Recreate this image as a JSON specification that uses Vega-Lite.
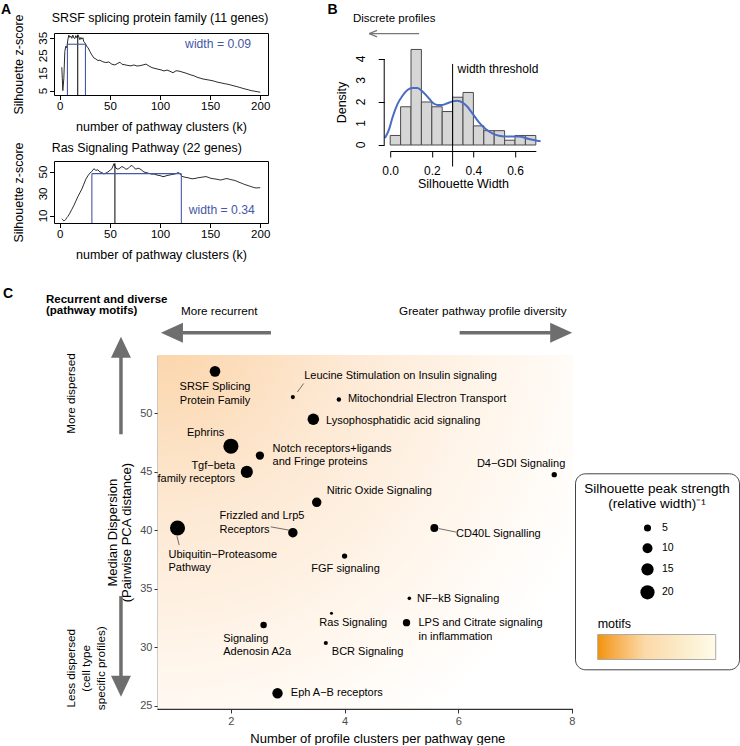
{
 "$schema": "https://vega.github.io/schema/vega-lite/v6.json",
 "padding": {"left": 0, "top": 2, "right": 0, "bottom": 0},
 "background": "white",
 "config": {
  "font": "Liberation Sans",
  "view": {"stroke": null},
  "axis": {"grid": false, "domainColor": "black", "tickColor": "black", "labelColor": "black", "titleColor": "black", "titleFontWeight": "normal", "labelOverlap": false, "labelFlush": false},
  "title": {"fontWeight": "normal", "color": "black"}
 },
 "resolve": {"scale": {"size": "independent", "color": "independent"}, "legend": {"size": "independent", "color": "independent"}},
 "datasets": {
  "srsf": [
   {"k":2,"z":18.5},{"k":3,"z":5.2},{"k":4,"z":12},{"k":5,"z":27.5},{"k":6,"z":30.5},{"k":7,"z":29.5},{"k":8,"z":34},{"k":9,"z":36.8},{"k":10,"z":35.5},{"k":11,"z":36.2},{"k":12,"z":35},{"k":13,"z":36.8},{"k":14,"z":35.2},{"k":15,"z":34.8},{"k":16,"z":36.5},{"k":17,"z":35.3},{"k":18,"z":37},{"k":19,"z":35.8},{"k":20,"z":34.2},{"k":21,"z":35.5},{"k":22,"z":34.5},{"k":23,"z":35.3},{"k":24,"z":33},{"k":25,"z":32.4},{"k":26,"z":31.5},{"k":27,"z":30.2},{"k":28,"z":29.8},{"k":30,"z":27.5},{"k":32,"z":25.5},{"k":34,"z":23.8},{"k":36,"z":23.2},{"k":38,"z":22.3},{"k":40,"z":22.5},{"k":43,"z":21.6},{"k":46,"z":21.2},{"k":49,"z":21.5},{"k":52,"z":20.2},{"k":55,"z":19.8},{"k":58,"z":20.8},{"k":60,"z":21.4},{"k":62,"z":20.2},{"k":65,"z":19.9},{"k":68,"z":19.5},{"k":71,"z":19.3},{"k":74,"z":19.8},{"k":77,"z":19.2},{"k":80,"z":19.4},{"k":83,"z":19.8},{"k":86,"z":20.3},{"k":89,"z":19.2},{"k":92,"z":18.3},{"k":95,"z":17.8},{"k":98,"z":17.4},{"k":101,"z":17},{"k":104,"z":16.4},{"k":107,"z":16.9},{"k":110,"z":16.2},{"k":113,"z":15.4},{"k":116,"z":16.5},{"k":119,"z":16.3},{"k":122,"z":15.8},{"k":125,"z":15.3},{"k":128,"z":14.7},{"k":131,"z":14.1},{"k":134,"z":13.6},{"k":137,"z":12.8},{"k":140,"z":12.3},{"k":143,"z":11.8},{"k":146,"z":11.5},{"k":149,"z":11.2},{"k":152,"z":10.9},{"k":155,"z":10.4},{"k":158,"z":9.9},{"k":161,"z":9.6},{"k":164,"z":9.2},{"k":167,"z":8.9},{"k":170,"z":8.5},{"k":173,"z":8},{"k":176,"z":7.6},{"k":179,"z":7.1},{"k":182,"z":6.6},{"k":185,"z":6.1},{"k":188,"z":5.7},{"k":191,"z":5.2},{"k":194,"z":4.9},{"k":197,"z":4.6},{"k":200,"z":4.3}
  ],
  "ras": [
   {"k":2,"z":7.5},{"k":3,"z":6.5},{"k":4,"z":5.5},{"k":5,"z":6},{"k":6,"z":7},{"k":7,"z":8.5},{"k":8,"z":9.5},{"k":10,"z":12.5},{"k":12,"z":16},{"k":14,"z":19.5},{"k":16,"z":23.5},{"k":18,"z":27.5},{"k":20,"z":31},{"k":22,"z":34.5},{"k":24,"z":39},{"k":26,"z":43.5},{"k":28,"z":46.5},{"k":30,"z":49},{"k":32,"z":50.5},{"k":34,"z":53},{"k":36,"z":51.5},{"k":38,"z":52},{"k":40,"z":50},{"k":42,"z":49.5},{"k":44,"z":48.2},{"k":46,"z":49},{"k":48,"z":50},{"k":50,"z":51.5},{"k":52,"z":53},{"k":54,"z":57.5},{"k":56,"z":53.5},{"k":58,"z":52.5},{"k":60,"z":53.5},{"k":62,"z":55},{"k":64,"z":54},{"k":66,"z":52.5},{"k":68,"z":53},{"k":70,"z":55},{"k":72,"z":56},{"k":74,"z":54},{"k":76,"z":52.5},{"k":78,"z":53.5},{"k":80,"z":52.8},{"k":82,"z":51.5},{"k":84,"z":50},{"k":86,"z":49.5},{"k":88,"z":49},{"k":90,"z":48.5},{"k":92,"z":48},{"k":94,"z":48.2},{"k":96,"z":47.5},{"k":98,"z":47},{"k":100,"z":46.8},{"k":102,"z":46},{"k":104,"z":45.8},{"k":106,"z":46.5},{"k":108,"z":47},{"k":110,"z":47.3},{"k":112,"z":47.8},{"k":114,"z":48},{"k":116,"z":48.5},{"k":118,"z":49.5},{"k":120,"z":48.5},{"k":122,"z":46},{"k":124,"z":45.5},{"k":126,"z":45},{"k":128,"z":44.8},{"k":130,"z":44.2},{"k":132,"z":43.8},{"k":134,"z":44},{"k":136,"z":44.3},{"k":138,"z":44.8},{"k":140,"z":45},{"k":142,"z":45.3},{"k":144,"z":45.6},{"k":146,"z":45.8},{"k":148,"z":45.2},{"k":150,"z":44.5},{"k":152,"z":44},{"k":154,"z":43.8},{"k":156,"z":43.5},{"k":158,"z":43.2},{"k":160,"z":42.7},{"k":162,"z":43},{"k":164,"z":43.5},{"k":166,"z":44},{"k":168,"z":43.8},{"k":170,"z":43.2},{"k":172,"z":42.8},{"k":174,"z":42.5},{"k":176,"z":41.8},{"k":178,"z":41},{"k":180,"z":40.3},{"k":182,"z":39.6},{"k":184,"z":38.8},{"k":186,"z":38.2},{"k":188,"z":37.6},{"k":190,"z":37},{"k":192,"z":36.4},{"k":194,"z":35.8},{"k":196,"z":35.5},{"k":198,"z":35.6},{"k":200,"z":35.8}
  ],
  "hist": [
   {"x0":0,"x1":0.05,"d":0.444},{"x0":0.05,"x1":0.1,"d":1.778},{"x0":0.1,"x1":0.15,"d":4.444},{"x0":0.15,"x1":0.2,"d":2.0},{"x0":0.2,"x1":0.25,"d":1.778},{"x0":0.25,"x1":0.3,"d":1.556},{"x0":0.3,"x1":0.35,"d":2.222},{"x0":0.35,"x1":0.4,"d":2.444},{"x0":0.4,"x1":0.45,"d":0.889},{"x0":0.45,"x1":0.5,"d":0.667},{"x0":0.5,"x1":0.55,"d":0.667},{"x0":0.55,"x1":0.6,"d":0.222},{"x0":0.6,"x1":0.65,"d":0.444},{"x0":0.65,"x1":0.7,"d":0.444}
  ],
  "dens": [
   {"w":-0.025,"d":0.33},{"w":-0.005,"d":0.74},{"w":0.011,"d":1.28},{"w":0.035,"d":1.9},{"w":0.059,"d":2.29},{"w":0.083,"d":2.56},{"w":0.107,"d":2.65},{"w":0.131,"d":2.65},{"w":0.155,"d":2.49},{"w":0.179,"d":2.25},{"w":0.203,"d":1.98},{"w":0.227,"d":1.86},{"w":0.251,"d":1.86},{"w":0.275,"d":1.94},{"w":0.299,"d":2.03},{"w":0.323,"d":2.06},{"w":0.347,"d":1.98},{"w":0.371,"d":1.78},{"w":0.395,"d":1.47},{"w":0.427,"d":1.05},{"w":0.459,"d":0.74},{"w":0.491,"d":0.54},{"w":0.523,"d":0.43},{"w":0.571,"d":0.39},{"w":0.619,"d":0.39},{"w":0.667,"d":0.28},{"w":0.723,"d":0.17}
  ],
  "pts": [
   {"id":"SRSF","name":"SRSF Splicing Protein Family","x":1.72,"y":53.6,"s":11.3},
   {"id":"Leucine","name":"Leucine Stimulation on Insulin signaling","x":3.09,"y":51.4,"s":1.7},
   {"id":"Mito","name":"Mitochondrial Electron Transport","x":3.90,"y":51.2,"s":2.0},
   {"id":"Lyso","name":"Lysophosphatidic acid signaling","x":3.45,"y":49.5,"s":13.2},
   {"id":"Ephrins","name":"Ephrins","x":2.0,"y":47.2,"s":22.6},
   {"id":"Notch","name":"Notch receptors+ligands and Fringe proteins","x":2.51,"y":46.4,"s":6.8},
   {"id":"Tgf","name":"Tgf−beta family receptors","x":2.28,"y":45.0,"s":14.6},
   {"id":"Nitric","name":"Nitric Oxide Signaling","x":3.51,"y":42.4,"s":8.9},
   {"id":"Frizzled","name":"Frizzled and Lrp5 Receptors","x":3.09,"y":39.8,"s":8.9},
   {"id":"Ubiquitin","name":"Ubiquitin−Proteasome Pathway","x":1.06,"y":40.2,"s":22.6},
   {"id":"FGF","name":"FGF signaling","x":4.0,"y":37.8,"s":2.8},
   {"id":"D4","name":"D4−GDI Signaling","x":7.69,"y":44.76,"s":2.8},
   {"id":"CD40L","name":"CD40L Signalling","x":5.58,"y":40.2,"s":6.3},
   {"id":"NFkB","name":"NF−kB Signaling","x":5.14,"y":34.18,"s":1.25},
   {"id":"Ras","name":"Ras Signaling","x":3.77,"y":32.9,"s":0.9},
   {"id":"LPS","name":"LPS and Citrate signaling in inflammation","x":5.09,"y":32.1,"s":5.4},
   {"id":"A2a","name":"Signaling Adenosin A2a","x":2.575,"y":31.9,"s":4.2},
   {"id":"BCR","name":"BCR Signaling","x":3.67,"y":30.36,"s":1.7},
   {"id":"EphAB","name":"Eph A−B receptors","x":2.82,"y":26.06,"s":10.7}
  ]
 },
 "vconcat": [
  {
   "hconcat": [
    {
     "vconcat": [
      {
       "width": 214, "height": 62,
       "view": {"stroke": "black", "strokeWidth": 1},
       "layer": [
        {"data": {"name": "srsf"}, "mark": {"type": "line", "color": "#2b2b2b", "strokeWidth": 1},
         "encoding": {
          "x": {"field": "k", "type": "quantitative", "scale": {"domain": [-5.8, 207.8], "nice": false, "zero": false},
                "axis": {"title": "number of pathway clusters (k)", "values": [0,50,100,150,200], "domain": false, "tickSize": 4.5, "labelFontSize": 11.5, "titleFontSize": 12.5, "labelPadding": 1, "titlePadding": 8, "labelOverlap": false}},
          "y": {"field": "z", "type": "quantitative", "scale": {"domain": [2.7, 38], "nice": false, "zero": false},
                "axis": {"title": "Silhouette z-score", "values": [5,10,15,20,25,30,35], "labels": false, "domain": false, "tickSize": 4.5, "titleFontSize": 12.5, "titlePadding": 24}}
         }},
        {"data": {"values": [{"v":5},{"v":15},{"v":25},{"v":35}]}, "mark": {"type": "text", "angle": 270, "align": "center", "baseline": "middle", "fontSize": 11.5}, "encoding": {"x": {"datum": -16.07}, "y": {"field": "v", "type": "quantitative"}, "text": {"field": "v", "type": "quantitative"}}},
        {"data": {"values": [{}]}, "mark": {"type": "rule", "color": "black", "strokeWidth": 1}, "encoding": {"x": {"datum": 17.9}, "y": {"datum": 2.7}, "y2": {"datum": 36.6}}},
        {"data": {"values": [{}]}, "mark": {"type": "rule", "color": "#4657a8", "strokeWidth": 1.1}, "encoding": {"x": {"datum": 7.6}, "y": {"datum": 2.7}, "y2": {"datum": 31.6}}},
        {"data": {"values": [{}]}, "mark": {"type": "rule", "color": "#4657a8", "strokeWidth": 1.1}, "encoding": {"x": {"datum": 25.6}, "y": {"datum": 2.7}, "y2": {"datum": 31.6}}},
        {"data": {"values": [{}]}, "mark": {"type": "rule", "color": "#4657a8", "strokeWidth": 1.1}, "encoding": {"x": {"datum": 7.6}, "x2": {"datum": 25.6}, "y": {"datum": 31.6}}},
        {"data": {"values": [{}]}, "mark": {"type": "text", "text": "width = 0.09", "color": "#4657a8", "fontSize": 12.2, "align": "center", "baseline": "middle"}, "encoding": {"x": {"datum": 158}, "y": {"datum": 31.9}}},
        {"data": {"values": [{}]}, "mark": {"type": "text", "text": "SRSF splicing protein family (11 genes)", "fontSize": 12.4, "align": "left", "baseline": "middle"}, "encoding": {"x": {"datum": -8.1}, "y": {"datum": 46.38}}},
        {"data": {"values": [{}]}, "mark": {"type": "text", "text": "A", "fontSize": 14, "fontWeight": "bold", "align": "left", "baseline": "top"}, "encoding": {"x": {"datum": -58.69}, "y": {"datum": 54.94}}}
       ]
      },
      {
       "width": 214, "height": 62,
       "view": {"stroke": "black", "strokeWidth": 1},
       "layer": [
        {"data": {"name": "ras"}, "mark": {"type": "line", "color": "#2b2b2b", "strokeWidth": 1},
         "encoding": {
          "x": {"field": "k", "type": "quantitative", "scale": {"domain": [-5.8, 207.8], "nice": false, "zero": false},
                "axis": {"title": "number of pathway clusters (k)", "values": [0,50,100,150,200], "domain": false, "tickSize": 4.5, "labelFontSize": 11.5, "titleFontSize": 12.5, "labelPadding": 1, "titlePadding": 8, "labelOverlap": false}},
          "y": {"field": "z", "type": "quantitative", "scale": {"domain": [3.6, 60], "nice": false, "zero": false},
                "axis": {"title": "Silhouette z-score", "values": [10,20,30,40,50], "labels": false, "domain": false, "tickSize": 4.5, "titleFontSize": 12.5, "titlePadding": 24}}
         }},
        {"data": {"values": [{"v":10},{"v":30},{"v":50}]}, "mark": {"type": "text", "angle": 270, "align": "center", "baseline": "middle", "fontSize": 11.5}, "encoding": {"x": {"datum": -16.07}, "y": {"field": "v", "type": "quantitative"}, "text": {"field": "v", "type": "quantitative"}}},
        {"data": {"values": [{}]}, "mark": {"type": "rule", "color": "black", "strokeWidth": 1}, "encoding": {"x": {"datum": 55}, "y": {"datum": 3.6}, "y2": {"datum": 57.9}}},
        {"data": {"values": [{}]}, "mark": {"type": "rule", "color": "#4657a8", "strokeWidth": 1.1}, "encoding": {"x": {"datum": 32}, "y": {"datum": 3.6}, "y2": {"datum": 48.5}}},
        {"data": {"values": [{}]}, "mark": {"type": "rule", "color": "#4657a8", "strokeWidth": 1.1}, "encoding": {"x": {"datum": 121.3}, "y": {"datum": 3.6}, "y2": {"datum": 48.5}}},
        {"data": {"values": [{}]}, "mark": {"type": "rule", "color": "#4657a8", "strokeWidth": 1.1}, "encoding": {"x": {"datum": 32}, "x2": {"datum": 121.3}, "y": {"datum": 48.5}}},
        {"data": {"values": [{}]}, "mark": {"type": "text", "text": "width = 0.34", "color": "#4657a8", "fontSize": 12.2, "align": "center", "baseline": "middle"}, "encoding": {"x": {"datum": 161.7}, "y": {"datum": 15.4}}},
        {"data": {"values": [{}]}, "mark": {"type": "text", "text": "Ras Signaling Pathway (22 genes)", "fontSize": 12.4, "align": "left", "baseline": "middle"}, "encoding": {"x": {"datum": -8.1}, "y": {"datum": 72.05}}}
       ]
      }
     ],
     "spacing": 66,
     "bounds": "flush"
    },
    {
     "width": 145.6, "height": 112,
     "layer": [
      {"data": {"name": "hist"}, "mark": {"type": "rect", "fill": "#d6d6d6", "stroke": "#4a4a4a", "strokeWidth": 1},
       "encoding": {
        "x": {"field": "x0", "type": "quantitative", "scale": {"domain": [0, 0.7], "nice": false, "zero": false},
              "axis": {"title": "Silhouette Width", "values": [0,0.1,0.2,0.3,0.4,0.5,0.6,0.7], "labelExpr": "round(datum.value*10) % 2 == 0 ? format(datum.value, '.1f') : ''", "offset": 6, "tickSize": 6, "labelFontSize": 12, "titleFontSize": 12.5, "labelPadding": 8, "titlePadding": 1, "labelOverlap": false}},
        "x2": {"field": "x1"},
        "y": {"field": "d", "type": "quantitative", "scale": {"domain": [0, 5.2093], "nice": false, "zero": false},
              "axis": {"title": "Density", "values": [0,1,2,3,4], "labels": false, "offset": 6, "tickSize": 6, "domain": false, "titleFontSize": 12.5, "titlePadding": 29, "titleY": 69}},
        "y2": {"datum": 0}
       }},
      {"data": {"values": [{"v":0},{"v":1},{"v":2},{"v":3},{"v":4}]}, "mark": {"type": "text", "angle": 270, "align": "center", "baseline": "middle", "fontSize": 12}, "encoding": {"x": {"datum": -0.1413}, "y": {"field": "v", "type": "quantitative"}, "text": {"field": "v", "type": "quantitative"}}},
      {"data": {"name": "dens"}, "mark": {"type": "line", "color": "#4a6cc2", "strokeWidth": 2, "interpolate": "monotone"},
       "encoding": {"x": {"field": "w", "type": "quantitative"}, "y": {"field": "d", "type": "quantitative"}}},
      {"data": {"values": [{}]}, "mark": {"type": "rule", "color": "black", "strokeWidth": 1}, "encoding": {"x": {"datum": -0.0288}, "y": {"datum": 0}, "y2": {"datum": 4}}},
      {"data": {"values": [{}]}, "mark": {"type": "rule", "color": "black", "strokeWidth": 1}, "encoding": {"x": {"datum": 0.3}, "y": {"datum": -1.0}, "y2": {"datum": 3.77}}},
      {"data": {"values": [{}]}, "mark": {"type": "text", "text": "width threshold", "fontSize": 12, "align": "left", "baseline": "middle"}, "encoding": {"x": {"datum": 0.324}, "y": {"datum": 3.53}}},
      {"data": {"values": [{}]}, "mark": {"type": "text", "text": "Discrete profiles", "fontSize": 11.5, "align": "center", "baseline": "middle"}, "encoding": {"x": {"datum": 0.019}, "y": {"datum": 5.85}}},
      {"data": {"values": [{}]}, "mark": {"type": "rule", "color": "#777777", "strokeWidth": 1.2}, "encoding": {"x": {"datum": 0.139}, "x2": {"datum": -0.101}, "y": {"datum": 5.18}}},
      {"data": {"values": [{}]}, "mark": {"type": "rule", "color": "#777777", "strokeWidth": 1.2}, "encoding": {"x": {"datum": -0.101}, "x2": {"datum": -0.063}, "y": {"datum": 5.18}, "y2": {"datum": 5.33}}},
      {"data": {"values": [{}]}, "mark": {"type": "rule", "color": "#777777", "strokeWidth": 1.2}, "encoding": {"x": {"datum": -0.101}, "x2": {"datum": -0.063}, "y": {"datum": 5.18}, "y2": {"datum": 5.03}}},
      {"data": {"values": [{}]}, "mark": {"type": "text", "text": "B", "fontSize": 14, "fontWeight": "bold", "align": "left", "baseline": "top"}, "encoding": {"x": {"datum": -0.3014}, "y": {"datum": 6.593}}}
     ]
    }
   ],
   "spacing": 56.2
  },
  {
   "width": 519, "height": 354.3,
   "layer": [
    {"data": {"values": [{}]}, "mark": {"type": "rect", "fill": {"gradient": "radial", "x1": 0, "y1": 0, "r1": 0, "x2": 0, "y2": 0, "r2": 1.15, "stops": [{"offset": 0, "color": "#fbd3a6"}, {"offset": 0.4, "color": "#fde9d4"}, {"offset": 0.75, "color": "#fff7ee"}, {"offset": 1, "color": "#ffffff"}]}},
     "encoding": {"x": {"datum": 0.71}, "x2": {"datum": 8.02}, "y": {"datum": 24.69}, "y2": {"datum": 55}}},
    {"data": {"values": [{}]}, "mark": {"type": "rule", "color": "black", "strokeWidth": 1}, "encoding": {"x": {"datum": 0.71}, "x2": {"datum": 8.02}, "y": {"datum": 24.69}}},
    {"data": {"values": [{}]}, "mark": {"type": "rule", "color": "#333333", "strokeWidth": 0.7}, "encoding": {"x": {"datum": 3.17}, "y": {"datum": 51.84}, "x2": {"datum": 3.28}, "y2": {"datum": 52.56}}},
    {"data": {"values": [{}]}, "mark": {"type": "rule", "color": "#333333", "strokeWidth": 0.7}, "encoding": {"x": {"datum": 2.70}, "y": {"datum": 40.30}, "x2": {"datum": 3.02}, "y2": {"datum": 40.02}}},
    {"data": {"values": [{}]}, "mark": {"type": "rule", "color": "#333333", "strokeWidth": 0.7}, "encoding": {"x": {"datum": 1.05}, "y": {"datum": 39.50}, "x2": {"datum": 1.09}, "y2": {"datum": 38.74}}},
    {"data": {"values": [{}]}, "mark": {"type": "rule", "color": "#333333", "strokeWidth": 0.7}, "encoding": {"x": {"datum": 5.66}, "y": {"datum": 40.15}, "x2": {"datum": 5.96}, "y2": {"datum": 39.85}}},
    {"data": {"name": "pts"}, "mark": {"type": "circle", "color": "black", "opacity": 1},
     "encoding": {
      "x": {"field": "x", "type": "quantitative", "scale": {"domain": [-1.1135, 8.02], "nice": false, "zero": false},
            "axis": {"title": "Number of profile clusters per pathway gene", "values": [2,4,6,8], "format": "d", "domain": false, "tickSize": 3.7, "tickColor": "#333333", "labelColor": "#4d4d4d", "labelFontSize": 11, "titleFontSize": 13, "labelPadding": 2, "titlePadding": 6, "titleX": 323.3, "labelOverlap": false}},
      "y": {"field": "y", "type": "quantitative", "scale": {"domain": [24.69, 55], "nice": false, "zero": false},
            "axis": {"title": ["Median Dispersion", "(Pairwise PCA distance)"], "offset": -103.7, "values": [25,30,35,40,45,50], "format": "d", "tickSize": 3.7, "tickColor": "#333333", "labelColor": "#4d4d4d", "labelFontSize": 11, "titleFontSize": 13, "titleLineHeight": 14.3, "labelPadding": 2, "titlePadding": 6, "domainWidth": 1, "labelOverlap": false}},
      "size": {"field": "s", "type": "quantitative", "scale": {"domain": [0, 20], "range": [0, 201]},
               "legend": {"title": ["Silhouette peak strength", "(relative width)⁻¹"], "orient": "none", "legendX": 521, "legendY": 118.3,
                          "values": [5, 10, 15, 20, 0.001, 0.002, 0.003], "labelExpr": "datum.value >= 1 ? datum.label : ' '",
                          "strokeColor": "#444444", "cornerRadius": 10, "padding": 9, "fillColor": "white",
                          "titleFontSize": 13.5, "titleFontWeight": "normal", "titleAnchor": "middle", "titleAlign": "center", "titleLineHeight": 15, "titlePadding": 12,
                          "symbolFillColor": "black", "symbolStrokeWidth": 0, "symbolOpacity": 1, "symbolType": "circle", "symbolOffset": 0,
                          "labelFontSize": 10.5, "labelOffset": 7, "rowPadding": 9}}
     }},
    {"data": {"name": "pts"}, "transform": [{"filter": "datum.id == 'SRSF'"}], "mark": {"type": "text", "text": ["SRSF Splicing", "Protein Family"], "fontSize": 11, "lineHeight": 13.3, "align": "center", "baseline": "middle", "dy": 16}, "encoding": {"x": {"field": "x", "type": "quantitative"}, "y": {"field": "y", "type": "quantitative"}}},
    {"data": {"name": "pts"}, "transform": [{"filter": "datum.id == 'Leucine'"}], "mark": {"type": "text", "fontSize": 11, "align": "left", "baseline": "middle", "dx": 11.3, "dy": -20.7}, "encoding": {"x": {"field": "x", "type": "quantitative"}, "y": {"field": "y", "type": "quantitative"}, "text": {"field": "name"}}},
    {"data": {"name": "pts"}, "transform": [{"filter": "datum.id == 'Mito'"}], "mark": {"type": "text", "fontSize": 11, "align": "left", "baseline": "middle", "dx": 9, "dy": 0}, "encoding": {"x": {"field": "x", "type": "quantitative"}, "y": {"field": "y", "type": "quantitative"}, "text": {"field": "name"}}},
    {"data": {"name": "pts"}, "transform": [{"filter": "datum.id == 'Lyso'"}], "mark": {"type": "text", "fontSize": 11, "align": "left", "baseline": "middle", "dx": 12.7, "dy": 2}, "encoding": {"x": {"field": "x", "type": "quantitative"}, "y": {"field": "y", "type": "quantitative"}, "text": {"field": "name"}}},
    {"data": {"name": "pts"}, "transform": [{"filter": "datum.id == 'Ephrins'"}], "mark": {"type": "text", "fontSize": 11, "align": "center", "baseline": "middle", "dx": -25.3, "dy": -13.4}, "encoding": {"x": {"field": "x", "type": "quantitative"}, "y": {"field": "y", "type": "quantitative"}, "text": {"field": "name"}}},
    {"data": {"name": "pts"}, "transform": [{"filter": "datum.id == 'Notch'"}], "mark": {"type": "text", "text": ["Notch receptors+ligands", "and Fringe proteins"], "fontSize": 11, "lineHeight": 13.3, "align": "left", "baseline": "middle", "dx": 12.7, "dy": -6.7}, "encoding": {"x": {"field": "x", "type": "quantitative"}, "y": {"field": "y", "type": "quantitative"}}},
    {"data": {"name": "pts"}, "transform": [{"filter": "datum.id == 'Tgf'"}], "mark": {"type": "text", "text": ["Tgf−beta", "family receptors"], "fontSize": 11, "lineHeight": 13.3, "align": "right", "baseline": "middle", "dx": -11.7, "dy": -6.3}, "encoding": {"x": {"field": "x", "type": "quantitative"}, "y": {"field": "y", "type": "quantitative"}}},
    {"data": {"name": "pts"}, "transform": [{"filter": "datum.id == 'Nitric'"}], "mark": {"type": "text", "fontSize": 11, "align": "left", "baseline": "middle", "dx": 10, "dy": -11.6}, "encoding": {"x": {"field": "x", "type": "quantitative"}, "y": {"field": "y", "type": "quantitative"}, "text": {"field": "name"}}},
    {"data": {"name": "pts"}, "transform": [{"filter": "datum.id == 'Frizzled'"}], "mark": {"type": "text", "text": ["Frizzled and Lrp5", "Receptors"], "fontSize": 11, "lineHeight": 13.3, "align": "left", "baseline": "middle", "dx": -73.4, "dy": -16.3}, "encoding": {"x": {"field": "x", "type": "quantitative"}, "y": {"field": "y", "type": "quantitative"}}},
    {"data": {"name": "pts"}, "transform": [{"filter": "datum.id == 'Ubiquitin'"}], "mark": {"type": "text", "text": ["Ubiquitin−Proteasome", "Pathway"], "fontSize": 11, "lineHeight": 13.3, "align": "left", "baseline": "middle", "dx": -9, "dy": 26.6}, "encoding": {"x": {"field": "x", "type": "quantitative"}, "y": {"field": "y", "type": "quantitative"}}},
    {"data": {"name": "pts"}, "transform": [{"filter": "datum.id == 'FGF'"}], "mark": {"type": "text", "fontSize": 11, "align": "center", "baseline": "middle", "dx": 1, "dy": 13}, "encoding": {"x": {"field": "x", "type": "quantitative"}, "y": {"field": "y", "type": "quantitative"}, "text": {"field": "name"}}},
    {"data": {"name": "pts"}, "transform": [{"filter": "datum.id == 'D4'"}], "mark": {"type": "text", "fontSize": 11, "align": "right", "baseline": "middle", "dx": 11, "dy": -11}, "encoding": {"x": {"field": "x", "type": "quantitative"}, "y": {"field": "y", "type": "quantitative"}, "text": {"field": "name"}}},
    {"data": {"name": "pts"}, "transform": [{"filter": "datum.id == 'CD40L'"}], "mark": {"type": "text", "fontSize": 11, "align": "left", "baseline": "middle", "dx": 21.7, "dy": 5.6}, "encoding": {"x": {"field": "x", "type": "quantitative"}, "y": {"field": "y", "type": "quantitative"}, "text": {"field": "name"}}},
    {"data": {"name": "pts"}, "transform": [{"filter": "datum.id == 'NFkB'"}], "mark": {"type": "text", "fontSize": 11, "align": "left", "baseline": "middle", "dx": 7.7, "dy": 0.7}, "encoding": {"x": {"field": "x", "type": "quantitative"}, "y": {"field": "y", "type": "quantitative"}, "text": {"field": "name"}}},
    {"data": {"name": "pts"}, "transform": [{"filter": "datum.id == 'Ras'"}], "mark": {"type": "text", "fontSize": 11, "align": "center", "baseline": "middle", "dx": 21.8, "dy": 10}, "encoding": {"x": {"field": "x", "type": "quantitative"}, "y": {"field": "y", "type": "quantitative"}, "text": {"field": "name"}}},
    {"data": {"name": "pts"}, "transform": [{"filter": "datum.id == 'LPS'"}], "mark": {"type": "text", "text": ["LPS and Citrate signaling", "in inflammation"], "fontSize": 11, "lineHeight": 13.3, "align": "left", "baseline": "middle", "dx": 12, "dy": 0.6}, "encoding": {"x": {"field": "x", "type": "quantitative"}, "y": {"field": "y", "type": "quantitative"}}},
    {"data": {"name": "pts"}, "transform": [{"filter": "datum.id == 'A2a'"}], "mark": {"type": "text", "text": ["Signaling", "Adenosin A2a"], "fontSize": 11, "lineHeight": 13.3, "align": "left", "baseline": "middle", "dx": -40.4, "dy": 14}, "encoding": {"x": {"field": "x", "type": "quantitative"}, "y": {"field": "y", "type": "quantitative"}}},
    {"data": {"name": "pts"}, "transform": [{"filter": "datum.id == 'BCR'"}], "mark": {"type": "text", "fontSize": 11, "align": "left", "baseline": "middle", "dx": 6, "dy": 9.3}, "encoding": {"x": {"field": "x", "type": "quantitative"}, "y": {"field": "y", "type": "quantitative"}, "text": {"field": "name"}}},
    {"data": {"name": "pts"}, "transform": [{"filter": "datum.id == 'EphAB'"}], "mark": {"type": "text", "fontSize": 11, "align": "left", "baseline": "middle", "dx": 13.3, "dy": 0}, "encoding": {"x": {"field": "x", "type": "quantitative"}, "y": {"field": "y", "type": "quantitative"}, "text": {"field": "name"}}},
    {"data": {"values": [{}]}, "mark": {"type": "rule", "color": "#6e6e6e", "strokeWidth": 3.5}, "encoding": {"x": {"datum": 2.704}, "x2": {"datum": 1.15}, "y": {"datum": 56.91}}},
    {"data": {"values": [{}]}, "mark": {"type": "point", "shape": "M-1,0L1,-0.91L1,0.91Z", "filled": true, "color": "#6e6e6e", "opacity": 1, "size": 484, "strokeWidth": 0}, "encoding": {"x": {"datum": 0.962}, "y": {"datum": 56.91}}},
    {"data": {"values": [{}]}, "mark": {"type": "rule", "color": "#6e6e6e", "strokeWidth": 3.5}, "encoding": {"x": {"datum": 6.025}, "x2": {"datum": 7.63}, "y": {"datum": 56.91}}},
    {"data": {"values": [{}]}, "mark": {"type": "point", "shape": "M1,0L-1,-0.91L-1,0.91Z", "filled": true, "color": "#6e6e6e", "opacity": 1, "size": 484, "strokeWidth": 0}, "encoding": {"x": {"datum": 7.812}, "y": {"datum": 56.91}}},
    {"data": {"values": [{}]}, "mark": {"type": "rule", "color": "#6e6e6e", "strokeWidth": 3.5}, "encoding": {"x": {"datum": 0.065}, "y": {"datum": 48.22}, "y2": {"datum": 54.9}}},
    {"data": {"values": [{}]}, "mark": {"type": "point", "shape": "M0,-1L-0.95,1L0.95,1Z", "filled": true, "color": "#6e6e6e", "opacity": 1, "size": 441, "strokeWidth": 0}, "encoding": {"x": {"datum": 0.065}, "y": {"datum": 55.66}}},
    {"data": {"values": [{}]}, "mark": {"type": "rule", "color": "#6e6e6e", "strokeWidth": 3.5}, "encoding": {"x": {"datum": 0.065}, "y": {"datum": 34.38}, "y2": {"datum": 27.4}}},
    {"data": {"values": [{}]}, "mark": {"type": "point", "shape": "M0,1L-0.95,-1L0.95,-1Z", "filled": true, "color": "#6e6e6e", "opacity": 1, "size": 441, "strokeWidth": 0}, "encoding": {"x": {"datum": 0.065}, "y": {"datum": 26.66}}},
    {"data": {"values": [{}]}, "mark": {"type": "text", "text": "C", "fontSize": 14, "fontWeight": "bold", "align": "left", "baseline": "top"}, "encoding": {"x": {"datum": -2.011}, "y": {"datum": 60.79}}},
    {"data": {"values": [{}]}, "mark": {"type": "text", "text": ["Recurrent and diverse", "(pathway motifs)"], "fontSize": 11.5, "fontWeight": "bold", "lineHeight": 11, "align": "left", "baseline": "middle"}, "encoding": {"x": {"datum": -1.254}, "y": {"datum": 59.68}}},
    {"data": {"values": [{}]}, "mark": {"type": "text", "text": "More recurrent", "fontSize": 11.7, "align": "left", "baseline": "middle"}, "encoding": {"x": {"datum": 1.12}, "y": {"datum": 58.76}}},
    {"data": {"values": [{}]}, "mark": {"type": "text", "text": "Greater pathway profile diversity", "fontSize": 11.7, "align": "left", "baseline": "middle"}, "encoding": {"x": {"datum": 4.96}, "y": {"datum": 58.76}}},
    {"data": {"values": [{}]}, "mark": {"type": "text", "text": "More dispersed", "fontSize": 11.7, "angle": 270, "align": "center", "baseline": "middle"}, "encoding": {"x": {"datum": -0.814}, "y": {"datum": 51.7}}},
    {"data": {"values": [{}]}, "mark": {"type": "text", "text": ["Less dispersed", "(cell type", "specific profiles)"], "fontSize": 11.7, "lineHeight": 15, "angle": 270, "align": "center", "baseline": "middle"}, "encoding": {"x": {"datum": -0.814}, "y": {"datum": 28.2}}},
    {"data": {"values": [{"motifs": 0}, {"motifs": 1}]}, "mark": {"type": "square", "opacity": 0},
     "encoding": {"color": {"field": "motifs", "type": "quantitative", "scale": {"domain": [0, 0.4, 1], "range": ["#f39200", "#fcd9a8", "#fffbea"]},
                  "legend": {"title": "motifs", "orient": "none", "legendX": 543.7, "legendY": 263, "direction": "horizontal", "gradientLength": 118, "gradientThickness": 25, "labelExpr": "''", "titleFontSize": 12.5, "titleFontWeight": "normal", "titlePadding": 4, "gradientStrokeColor": "#aaaaaa", "gradientStrokeWidth": 1, "padding": 0}}}}
   ]
  }
 ],
 "spacing": 26
}
